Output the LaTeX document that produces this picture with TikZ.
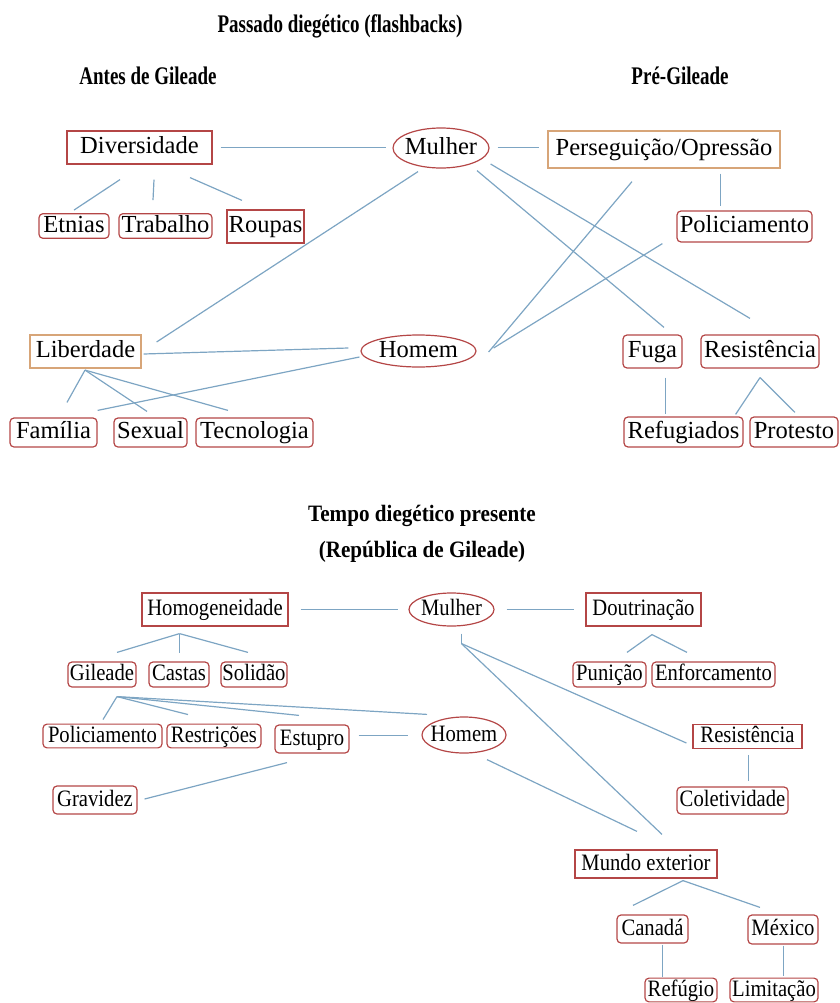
\documentclass[tikz,border=0pt]{standalone}
\usepackage{fontspec}
\setmainfont{Liberation Serif}
\newfontfamily\botfont{Liberation Serif}[FakeStretch=0.88]
\newfontfamily\titfont{Liberation Serif}[FakeStretch=0.75]
\newfontfamily\tittwofont{Liberation Serif}[FakeStretch=0.9]
\usetikzlibrary{shapes.geometric,calc}
\definecolor{boxred}{RGB}{180,70,70}
\definecolor{boxtan}{RGB}{215,165,120}
\definecolor{linec}{RGB}{125,165,195}
\tikzset{
 conn/.style={draw=linec, line width=0.9pt},
 nb/.style={draw=boxred, line width=0.9pt, rectangle, inner sep=0pt, align=center},
 rb/.style={nb, rounded corners=3pt},
 tb/.style={nb, draw=boxtan},
 el/.style={ellipse, draw=boxred, line width=0.9pt, inner sep=-8pt},
 sz/.style 2 args={minimum width=#1*0.75pt, minimum height=#2*0.75pt},
 ftop/.style={font=\fontsize{18.4}{22}\selectfont, text height=14pt, text depth=4.5pt},
 fbot/.style={font=\botfont\fontsize{17.6}{21}\selectfont, text height=13.5pt, text depth=4.3pt},
 titA/.style={anchor=base, font=\titfont\bfseries\fontsize{19}{22}\selectfont},
 titB/.style={anchor=base, font=\tittwofont\bfseries\fontsize{17.6}{21}\selectfont},
}
\begin{document}
\begin{tikzpicture}[x=0.75pt,y=-0.75pt]
\useasboundingbox (0,0) rectangle (839,1003);
% ---------- titles
\node[titA] (t1) at (340,32) {Passado diegético (flashbacks)};
\node[titA] (t2) at (148,84) {Antes de Gileade};
\node[titA] (t3) at (680,84) {Pré-Gileade};
\node[titB] (t4) at (422,521) {Tempo diegético presente};
\node[titB] (t5) at (422,557) {(República de Gileade)};
% ---------- top nodes
\node[nb,ftop,sz={145}{33}] (div) at (139.5,147.5) {Diversidade};
\node[el,ftop,sz={96}{40}] (mul1) at (441,148) {Mulher};
\node[tb,ftop,sz={232}{37}] (per) at (664,149.5) {Perseguição/Opressão};
\node[rb,ftop,sz={70}{24}] (etn) at (74,226) {Etnias};
\node[rb,ftop,sz={93}{24}] (tra) at (165.5,226) {Trabalho};
\node[nb,ftop,sz={77}{33}] (rou) at (265.5,226.5) {Roupas};
\node[rb,ftop,sz={135}{31}] (pol1) at (744.5,226.5) {Policiamento};
\node[tb,ftop,sz={111}{33}] (lib) at (85.5,351.5) {Liberdade};
\node[el,ftop,sz={115}{32}] (hom1) at (418.5,351) {Homem};
\node[rb,ftop,sz={59}{33}] (fug) at (652.5,351.5) {Fuga};
\node[rb,ftop,sz={118}{33}] (res1) at (760,351.5) {Resistência};
\node[rb,ftop,sz={87}{29}] (fam) at (53.5,432.5) {Família};
\node[rb,ftop,sz={73}{29}] (sex) at (150.5,432.5) {Sexual};
\node[rb,ftop,sz={117}{29}] (tec) at (254.5,432.5) {Tecnologia};
\node[rb,ftop,sz={119}{30}] (ref1) at (683.5,432) {Refugiados};
\node[rb,ftop,sz={88}{30}] (pro) at (794,432) {Protesto};
% ---------- top connectors
\draw[conn] ($(div.east)+(8,0)$) -- ($(mul1.west)+(-6,-0.5)$);
\draw[conn] ($(div.south)+(-19.5,15)$) -- ($(etn.north)+(0,-3)$);
\draw[conn] ($(div.south)+(14.5,15)$) -- ($(tra.north)+(-12.5,-13)$);
\draw[conn] ($(div.south)+(50.5,13)$) -- ($(rou.north)+(-23.5,-9)$);
\draw[conn] ($(mul1.east)+(8,-0.5)$) -- ($(per.west)+(-8,-2)$);
\draw[conn] ($(per.south)+(56.5,5)$) -- ($(pol1.north)+(-24,-4)$);
\draw[conn] ($(mul1.south)+(-23,3)$) -- ($(lib.east)+(15,-9.5)$);
\draw[conn] ($(mul1.south)+(36,2)$) -- ($(fug.north)+(11.5,-7)$);
\draw[conn] ($(mul1.east)+(1,16)$) -- ($(res1.north)+(-10,-16)$);
\draw[conn] ($(per.south)+(-32,13)$) -- ($(hom1.east)+(12,1)$);
\draw[conn] ($(pol1.south west)+(-14,1)$) -- ($(hom1.east)+(17,-3)$);
\draw[conn] ($(lib.east)+(2,2.5)$) -- ($(hom1.west)+(-12,-3)$);
\draw[conn] ($(hom1.west)+(-1,6)$) -- ($(fam.north east)+(0,-7)$);
\coordinate (libfan) at ($(lib.south)+(-0.5,1.5)$);
\draw[conn] (libfan) -- ($(fam.north)+(13.5,-15)$);
\draw[conn] (libfan) -- ($(sex.north)+(-3.5,-6)$);
\draw[conn] (libfan) -- ($(tec.north)+(-26.5,-7)$);
\draw[conn] ($(fug.south)+(13,9)$) -- ($(ref1.north)+(-18,-2)$);
\coordinate (resfan) at ($(res1.south)+(0,9)$);
\draw[conn] (resfan) -- ($(ref1.north east)+(-8,-2)$);
\draw[conn] (resfan) -- ($(pro.north)+(1,-4)$);
% ---------- bottom nodes
\node[nb,fbot,sz={146}{33}] (hmg) at (215,609.5) {Homogeneidade};
\node[el,fbot,sz={85}{33}] (mul2) at (451.5,609.5) {Mulher};
\node[nb,fbot,sz={115}{33}] (dou) at (643.5,609.5) {Doutrinação};
\node[rb,fbot,sz={73}{25}] (pun) at (609.5,674.5) {Punição};
\node[rb,fbot,sz={123}{25}] (enf) at (713.5,674.5) {Enforcamento};
\node[rb,fbot,sz={68}{25}] (gil) at (102,674.5) {Gileade};
\node[rb,fbot,sz={60}{25}] (cas) at (179,674.5) {Castas};
\node[rb,fbot,sz={66}{25}] (sol) at (254,674.5) {Solidão};
\node[rb,fbot,sz={119}{22}] (pol2) at (102.5,736) {Policiamento};
\node[rb,fbot,sz={94}{22}] (rst) at (214,736) {Restrições};
\node[rb,fbot,sz={74}{28}] (est) at (312,739) {Estupro};
\node[el,fbot,sz={84}{36}] (hom2) at (464,735) {Homem};
\node[rb,fbot,sz={84}{28}] (grv) at (95,800) {Gravidez};
\node[nb,fbot,sz={109}{23}] (res2) at (747.5,736.5) {Resistência};
\node[rb,fbot,sz={111}{27}] (col) at (732.5,800.5) {Coletividade};
\node[nb,fbot,sz={142}{28}] (mun) at (646,864) {Mundo exterior};
\node[rb,fbot,sz={71}{28}] (can) at (652.5,929) {Canadá};
\node[rb,fbot,sz={70}{29}] (mex) at (783,929.5) {México};
\node[rb,fbot,sz={72}{22}] (rfg) at (681,990) {Refúgio};
\node[rb,fbot,sz={88}{22}] (lim) at (774,990) {Limitação};
% ---------- bottom connectors
\draw[conn] ($(hmg.east)+(12,0)$) -- ($(mul2.west)+(-10,0)$);
\draw[conn] ($(mul2.east)+(12,0)$) -- ($(dou.west)+(-11,0)$);
\coordinate (doufan) at ($(dou.south)+(8.5,8)$);
\draw[conn] (doufan) -- ($(pun.north)+(17.5,-9)$);
\draw[conn] (doufan) -- ($(enf.north)+(-26.5,-9)$);
\coordinate (hmgfan) at ($(hmg.south)+(-35.5,7)$);
\draw[conn] (hmgfan) -- ($(gil.north)+(15,-9)$);
\draw[conn] (hmgfan) -- ($(cas.north)+(0.5,-8)$);
\draw[conn] (hmgfan) -- ($(sol.north)+(-6,-9)$);
\coordinate (gilfan) at ($(gil.south)+(15,9)$);
\draw[conn] (gilfan) -- ($(pol2.north)+(0.5,-4)$);
\draw[conn] (gilfan) -- ($(rst.north)+(-26,-9)$);
\draw[conn] (gilfan) -- ($(est.north)+(-13,-9)$);
\draw[conn] (gilfan) -- ($(hom2.north)+(-37,-2)$);
\draw[conn] ($(est.east)+(9,-3.5)$) -- ($(hom2.west)+(-13,0.5)$);
\draw[conn] ($(est.south)+(-25,9)$) -- ($(grv.east)+(7,-1)$);
\coordinate (mulfan) at ($(mul2.south)+(10,17)$);
\draw[conn] ($(mul2.south)+(10,7)$) -- (mulfan);
\draw[conn] (mulfan) -- ($(res2.west)+(-6,6.5)$);
\draw[conn] (mulfan) -- ($(mun.north)+(16,-15)$);
\draw[conn] ($(hom2.south)+(23,6)$) -- ($(mun.north)+(-9,-18)$);
\draw[conn] ($(res2.south)+(1,6)$) -- ($(col.north)+(16,-5.5)$);
\coordinate (munfan) at ($(mun.south)+(37,2)$);
\draw[conn] (munfan) -- ($(can.north)+(-19.5,-9)$);
\draw[conn] (munfan) -- ($(mex.north)+(-23,-7)$);
\draw[conn] ($(can.south)+(10,1)$) -- ($(rfg.north)+(-18.5,-1)$);
\draw[conn] ($(mex.south)+(0.5,1)$) -- ($(lim.north)+(9.5,-2)$);
\end{tikzpicture}
\end{document}
